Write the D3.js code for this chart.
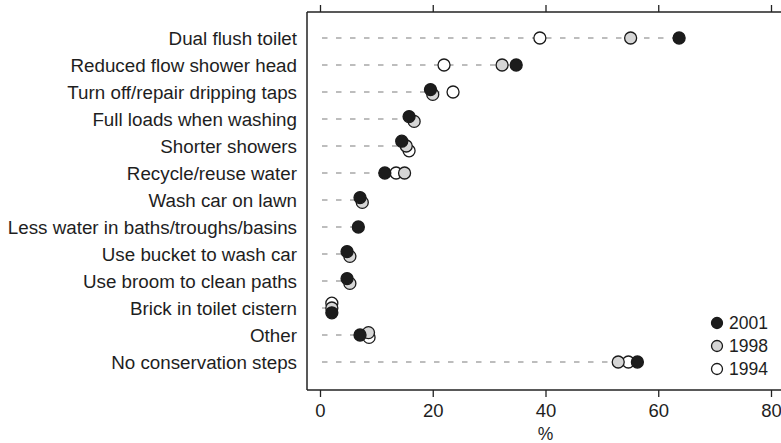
<!DOCTYPE html>
<html><head><meta charset="utf-8">
<script src="https://cdn.jsdelivr.net/npm/d3@7"></script>
<style>body{margin:0;background:#fff}svg{display:block}text{font-family:"Liberation Sans",Arial,sans-serif;fill:#1e1e1e}</style>
</head><body><svg id="c" width="781" height="443"></svg>
<script>
const categories = ["Dual flush toilet","Reduced flow shower head","Turn off/repair dripping taps","Full loads when washing","Shorter showers","Recycle/reuse water","Wash car on lawn","Less water in baths/troughs/basins","Use bucket to wash car","Use broom to clean paths","Brick in toilet cistern","Other","No conservation steps"];
const values1994 = [39.0,22.0,23.6,null,15.8,13.5,null,null,null,null,2.1,8.7,54.7];
const values1998 = [55.1,32.3,20.0,16.7,15.3,15.0,7.5,null,5.3,5.3,2.1,8.6,52.9];
const values2001 = [63.7,34.8,19.6,15.8,14.5,11.5,7.1,6.8,4.8,4.8,2.1,7.1,56.3];
const seriesNames = ["1994","1998","2001"];
const xTicks = [0,20,40,60,80];
const fills = {"1994":"#ffffff","1998":"#d6d6d6","2001":"#1c1c1c"};

(function(){
const svg = d3.select("#c");
const x = d3.scaleLinear().domain([0,80]).range([320,771]);
const y = d3.scalePoint().domain(categories).range([38,362]);
const series = [values1994, values1998, values2001];
const boxL = 307, boxT = 12, boxB = 390, boxR = 781;

categories.forEach((c,i)=>{
  const vals = series.map(s=>s[i]).filter(v=>v!=null);
  const mx = d3.max(vals);
  svg.append("line").attr("x1",x(0)+2).attr("x2",x(mx)).attr("y1",y(c)).attr("y2",y(c))
    .attr("stroke","#a8a8a8").attr("stroke-width",1.4).attr("stroke-dasharray","5.5,8.5");
});

svg.append("line").attr("x1",boxL).attr("x2",boxR).attr("y1",boxT).attr("y2",boxT).attr("stroke","#222").attr("stroke-width",1.5);
svg.append("line").attr("x1",boxL).attr("x2",boxR).attr("y1",boxB).attr("y2",boxB).attr("stroke","#222").attr("stroke-width",1.5);
svg.append("line").attr("x1",boxL).attr("x2",boxL).attr("y1",boxT).attr("y2",boxB).attr("stroke","#222").attr("stroke-width",1.5);

const gTop = svg.append("g").attr("transform",`translate(0,${boxT})`).call(d3.axisTop(x).tickValues(xTicks).tickSize(7).tickFormat(""));
const gBot = svg.append("g").attr("transform",`translate(0,${boxB})`).call(d3.axisBottom(x).tickValues(xTicks).tickSize(7).tickPadding(4));
[gTop,gBot].forEach(g=>{g.select(".domain").remove();g.selectAll(".tick line").attr("stroke","#222").attr("stroke-width",1.3);});
gBot.selectAll(".tick text").attr("font-size",18.5).attr("font-family","Liberation Sans, Arial, sans-serif").attr("fill","#1e1e1e").attr("dy","0.85em");
svg.append("text").attr("x",x(40)).attr("y",440).attr("text-anchor","middle").attr("font-size",17.5).text("%");

svg.selectAll("text.cat").data(categories).enter().append("text").attr("class","cat")
  .attr("x",297).attr("y",d=>y(d)).attr("dy","0.35em").attr("text-anchor","end").attr("font-size",18.8).text(d=>d);

const r = 6, thr = 7, step = 4.8;
categories.forEach((c,i)=>{
  const pts = series.map((s,k)=>({k, v:s[i]})).filter(p=>p.v!=null);
  const sorted = pts.slice().sort((a,b)=> (a.v-b.v) || (a.k-b.k));
  const clusters = [];
  sorted.forEach(p=>{
    const last = clusters[clusters.length-1];
    if(last && Math.abs(x(p.v)-x(last[last.length-1].v))<thr) last.push(p); else clusters.push([p]);
  });
  clusters.forEach(cl=>cl.forEach((p,j)=>{p.dy=(j-(cl.length-1)/2)*step;}));
  pts.forEach(p=>{
    svg.append("circle").attr("cx",x(p.v)).attr("cy",y(c)+p.dy).attr("r",r)
      .attr("fill",fills[seriesNames[p.k]]).attr("stroke","#1a1a1a").attr("stroke-width",1.3);
  });
});

const leg = ["2001","1998","1994"];
leg.forEach((n,i)=>{
  const ly = 323 + i*23;
  svg.append("circle").attr("cx",717).attr("cy",ly).attr("r",5.5).attr("fill",fills[n]).attr("stroke","#1a1a1a").attr("stroke-width",1.3);
  svg.append("text").attr("x",729).attr("y",ly).attr("dy","0.35em").attr("font-size",17.5).text(n);
});
})();
</script></body></html>
